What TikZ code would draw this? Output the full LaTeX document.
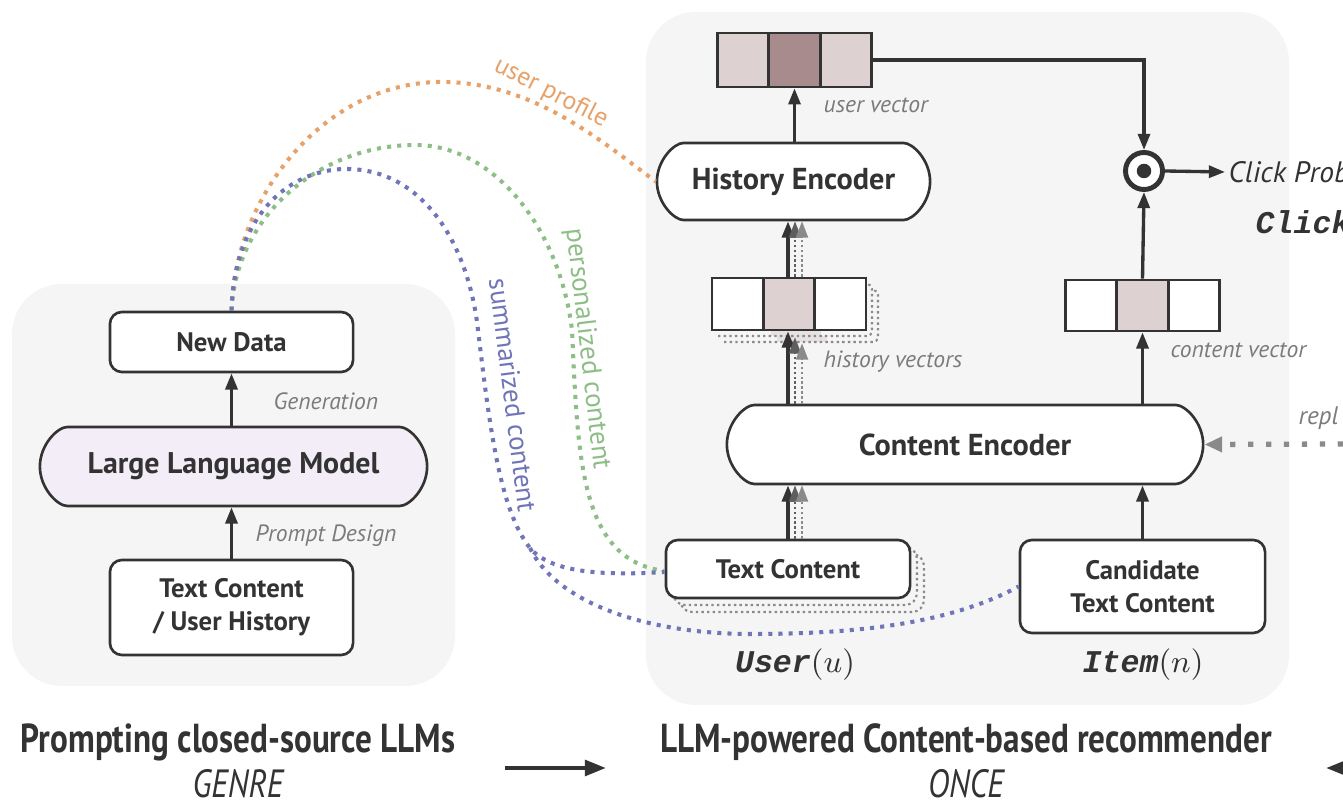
\documentclass[tikz,border=0pt]{standalone}
\usepackage{fontspec}
\setmainfont{PT Sans}
\setmonofont{Liberation Mono}
\usetikzlibrary{arrows.meta,shapes.misc}

\definecolor{panelc}{HTML}{F5F5F5}
\definecolor{strokec}{HTML}{333333}
\definecolor{textc}{HTML}{333333}
\definecolor{lblc}{HTML}{7B7B7B}
\definecolor{llmc}{HTML}{F2EDF7}
\definecolor{celllo}{HTML}{DDD1D1}
\definecolor{cellhi}{HTML}{A88B8D}
\definecolor{ghostc}{HTML}{8A8A8A}
\definecolor{ghostdark}{HTML}{5E5E5E}
\definecolor{orangec}{HTML}{E8A168}
\definecolor{greenc}{HTML}{8DBE86}
\definecolor{bluec}{HTML}{6F75B6}

\tikzset{
  panel/.style={fill=panelc, draw=none, rounded corners=0.5cm},
  box/.style={draw=strokec, line width=0.75pt, rounded corners=0.12cm, fill=white,
    text=textc, font=\bfseries\fontsize{7.6}{9.4}\selectfont, inner sep=0pt, align=center},
  pill/.style={box, rounded rectangle},
  cell/.style={draw=strokec, line width=0.75pt, minimum width=0.515cm, inner sep=0pt, fill=white},
  lbl/.style={text=lblc, font=\itshape\fontsize{6.7}{8}\selectfont, inner sep=0pt},
  curvelbl/.style={inner sep=0pt, font=\fontsize{7.7}{9}\selectfont},
  arr/.style={draw=strokec, line width=0.95pt, -{Triangle[length=4.6pt,width=3.4pt]}},
  ghost/.style={draw=ghostc, line width=0.55pt, dash pattern=on 0.7pt off 0.7pt,
    -{Triangle[length=4.6pt,width=3.4pt]}},
  shadowbox/.style={draw=ghostc, line width=0.6pt, dash pattern=on 0.7pt off 0.9pt},
  flow/.style={line width=1.15pt, dash pattern=on 1.15pt off 1.75pt},
  monolbl/.style={inner sep=0pt, text=textc, font=\fontsize{9}{10}\selectfont},
  title/.style={inner sep=0pt, text=textc, font=\bfseries\fontsize{11.5}{13}\selectfont},
  subtitle/.style={inner sep=0pt, text=textc, font=\itshape\fontsize{11.2}{13}\selectfont}
}

\begin{document}
\begin{tikzpicture}[x=0.01cm, y=-0.01cm]
\useasboundingbox (0,0) rectangle (1343,801);
\clip (0,0) rectangle (1343,801);
\fill[white] (0,0) rectangle (1343,801);

% background panels
\path[panel] (12,284) rectangle (455,686);
\path[panel] (646,12) rectangle (1289,705);

% ---------------- left panel: prompting the LLM ----------------
\node[box, minimum width=2.43cm, minimum height=0.6cm] (nd) at (231.5,342) {New Data};
\node[pill, fill=llmc, minimum width=3.87cm, minimum height=0.79cm,
      font=\bfseries\fontsize{8.5}{10}\selectfont] (llm) at (233.5,466.5) {Large Language Model};
\node[box, minimum width=2.43cm, minimum height=0.95cm] (src) at (231.5,607.5) {Text Content\\/ User History};
\draw[arr] (llm.north -| nd) -- (nd.south);
\draw[arr] (src.north) -- (llm.south -| src);
\node[lbl, anchor=west] (gen) at (273,401) {Generation};
\node[lbl, anchor=west] (pd) at (255,536) {Prompt Design};

% ---------------- right panel: content-based recommender ----------------
% user vector
\node[cell, fill=celllo, minimum height=0.54cm] (uv1) at (743,60) {};
\node[cell, fill=cellhi, minimum height=0.54cm] (uv2) at (794.5,60) {};
\node[cell, fill=celllo, minimum height=0.54cm] (uv3) at (846,60) {};
\node[lbl, anchor=west] (uvl) at (823,105) {user vector};

% history encoder
\node[pill, minimum width=2.73cm, minimum height=0.77cm,
      font=\bfseries\fontsize{8.6}{10}\selectfont] (he) at (793.5,181.5) {History Encoder};

% stacked history vectors (two dotted copies behind)
\foreach \o in {12,6}{
  \fill[panelc] (712+\o,278+\o) rectangle (866+\o,330+\o);
  \fill[celllo!55!panelc] (765+\o,278+\o) rectangle (815+\o,330+\o);
  \draw[shadowbox, rounded corners=0.05cm] (712+\o,330+\o) -- (866+\o,330+\o) -- (866+\o,278+\o) -- (860+\o,278+\o);
}
\node[cell, minimum height=0.52cm] (hv1) at (737.7,304) {};
\node[cell, fill=celllo, minimum height=0.52cm] (hv2) at (789,304) {};
\node[cell, minimum height=0.52cm] (hv3) at (840.3,304) {};
\node[lbl, anchor=west] (hvl) at (823,362) {history vectors};

% content encoder
\node[pill, minimum width=4.76cm, minimum height=0.79cm,
      font=\bfseries\fontsize{8.6}{10}\selectfont] (ce) at (965,444.5) {Content Encoder};

% user text content (with two dotted copies behind)
\foreach \o in {14,7}{
  \fill[panelc, rounded corners=0.12cm] (666+\o,540+\o) rectangle (910+\o,598+\o);
  \draw[shadowbox, rounded corners=0.12cm] (666+\o,586+\o) -- (666+\o,598+\o) -- (910+\o,598+\o) -- (910+\o,540+\o) -- (898+\o,540+\o);
}
\node[box, minimum width=2.44cm, minimum height=0.58cm] (tc) at (788,569) {Text Content};

% candidate text content
\node[box, minimum width=2.45cm, minimum height=0.93cm] (cand) at (1142.5,586.5) {Candidate\\Text Content};

% content vector
\node[cell, minimum height=0.51cm] (cv1) at (1091,305.5) {};
\node[cell, fill=celllo, minimum height=0.51cm] (cv2) at (1142.5,305.5) {};
\node[cell, minimum height=0.51cm] (cv3) at (1194,305.5) {};
\node[lbl, anchor=west] (cvl) at (1170,350) {content vector};

% dot product
\node[circle, draw=strokec, line width=1.4pt, fill=white, minimum size=0.37cm, inner sep=0pt] (dot) at (1144,171) {};
\node[circle, fill=strokec, minimum size=0.145cm, inner sep=0pt] (dotc) at (dot) {};
\node[inner sep=0pt, anchor=west, text=textc, font=\itshape\fontsize{8.4}{10}\selectfont] (clickp) at (1228,172) {Click Prob};
\node[monolbl, anchor=west] (clickm) at (1255,222) {\textbf{\textit{\ttfamily Click}}};

% replacement input from the right
\coordinate (replsrc) at (1343,444);
\node[lbl, anchor=west, font=\itshape\fontsize{7.2}{8}\selectfont] (repl) at (1298,418) {repl};
\draw[draw=ghostc, line width=1.5pt, dash pattern=on 1.5pt off 3.6pt, -{Triangle[length=5pt,width=4.2pt]}] (replsrc) -- (ce.east);

% user / item labels
\node[monolbl] (ul) at (795,665) {\textbf{\textit{\ttfamily User}}$(u)$};
\node[monolbl] (il) at (1143,665) {\textbf{\textit{\ttfamily Item}}$(n)$};

% main connectors (with the stacked copies drawn as grey dotted arrows)
\draw[arr] (tc.north) -- (tc.north |- ce.south);
\draw[ghost, draw=ghostdark] ([xshift=0.07cm]tc.north) -- ([xshift=0.07cm]tc.north |- ce.south);
\draw[ghost] ([xshift=0.14cm]tc.north) -- ([xshift=0.14cm]tc.north |- ce.south);
\draw[arr] (tc.north |- ce.north) -- (tc.north |- hv2.south);
\draw[ghost, draw=ghostdark] ([xshift=0.07cm]tc.north |- ce.north) -- ([xshift=0.07cm,yshift=-0.06cm]tc.north |- hv2.south);
\draw[ghost] ([xshift=0.14cm]tc.north |- ce.north) -- ([xshift=0.14cm,yshift=-0.12cm]tc.north |- hv2.south);
\draw[arr] (tc.north |- hv2.north) -- (tc.north |- he.south);
\draw[ghost, draw=ghostdark] ([xshift=0.07cm]tc.north |- hv2.north) -- ([xshift=0.07cm]tc.north |- he.south);
\draw[ghost] ([xshift=0.14cm]tc.north |- hv2.north) -- ([xshift=0.14cm]tc.north |- he.south);
\draw[arr] (he.north -| uv2) -- (uv2.south);
\draw[arr] (cand.north) -- (cand.north |- ce.south);
\draw[arr] (cv2.north |- ce.north) -- (cv2.south);
\draw[arr] (cv2.north) -- (dot.south);
\draw[arr] (uv3.east) -| (dot.north);
\draw[arr] (dot.east) -- ([xshift=-0.03cm]clickp.west);

% ---------------- data flows from the LLM ----------------
\draw[flow, draw=orangec] (nd.north) .. controls (234,200) and (320,85) .. (437,82)
   .. controls (530,80) and (600,140) .. (he.west);
\draw[flow, draw=greenc] (nd.north) .. controls (236,215) and (320,145) .. (415,145)
   .. controls (495,145) and (560,230) .. (572,330)
   .. controls (578,460) and (580,560) .. ([yshift=-0.02cm]tc.west);
\coordinate (split) at (530,548);
\draw[flow, draw=bluec] (nd.north) .. controls (234,220) and (285,170) .. (345,169)
   .. controls (420,168) and (468,240) .. (478,330)
   .. controls (490,430) and (500,510) .. (split)
   .. controls (550,572) and (600,576) .. ([yshift=-0.03cm]tc.west);
\draw[flow, draw=bluec] (split) .. controls (555,600) and (640,634) .. (752,634)
   .. controls (880,634) and (960,618) .. (cand.west);

\node[curvelbl, text=orangec, rotate=-27, font=\fontsize{7.3}{9}\selectfont] (upl) at (551,93) {user profile};
\node[curvelbl, text=greenc, rotate=-83.4] (pcl) at (587,349) {personalized content};
\node[curvelbl, text=bluec, rotate=-82.8] (scl) at (513,395) {summarized content};

% ---------------- titles ----------------
\node[title] (t1) at (238,742) {\scalebox{0.82}[1]{Prompting closed-source LLMs}};
\node[subtitle] (s1) at (238,784) {\scalebox{0.82}[1]{GENRE}};
\node[title] (t2) at (966,742) {\scalebox{0.82}[1]{LLM-powered Content-based recommender}};
\node[subtitle] (s2) at (966,784) {\scalebox{0.82}[1]{ONCE}};
\coordinate (a1) at (505,768);
\coordinate (a2) at (606,768);
\draw[draw=strokec, line width=1.2pt, -{Triangle[length=6pt,width=4.4pt]}] (a1) -- (a2);
\coordinate (b1) at (1380,768);
\coordinate (b2) at (1326,768);
\draw[draw=strokec, line width=1.2pt, -{Triangle[length=6pt,width=4.4pt]}] (b1) -- (b2);
\end{tikzpicture}
\end{document}
